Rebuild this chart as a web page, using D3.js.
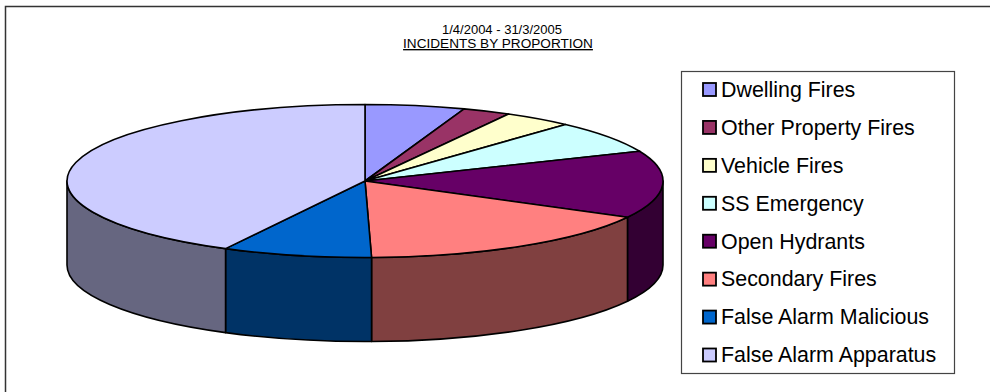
<!DOCTYPE html>
<html>
<head>
<meta charset="utf-8">
<script src="https://cdn.jsdelivr.net/npm/d3@7"></script>
<style>
  html, body { margin: 0; padding: 0; background: #fff; }
  svg { display: block; font-family: "Liberation Sans", Arial, sans-serif; }
</style>
</head>
<body>
<svg id="chart" width="990" height="392"></svg>
<script>
// ---- data ----
const categories = ["Dwelling Fires", "Other Property Fires", "Vehicle Fires", "SS Emergency",
                    "Open Hydrants", "Secondary Fires", "False Alarm Malicious", "False Alarm Apparatus"];
const values = [5.4, 2.6, 3.75, 6.9, 14.2, 16.8, 8.1, 42.25];
const colors = ["#9999FF", "#993366", "#FFFFCC", "#CCFFFF", "#660066", "#FF8080", "#0066CC", "#CCCCFF"];
const titleLines = ["1/4/2004 - 31/3/2005", "INCIDENTS BY PROPORTION"];

// ---- layout ----
const cx = 365, cy = 181, rx = 298, ry = 76.5, depth = 84;

const svg = d3.select("#chart");

// outer frame
svg.append("rect").attr("x", 5.5).attr("y", 6.5).attr("width", 1000).attr("height", 400)
  .attr("fill", "#fff").attr("stroke", "#333").attr("stroke-width", 1.5);

// title
svg.append("text").attr("x", 502).attr("y", 33.5).attr("text-anchor", "middle")
  .attr("font-size", 13).attr("fill", "#000").text(titleLines[0]);
svg.append("text").attr("x", 498).attr("y", 48).attr("text-anchor", "middle")
  .attr("font-size", 13.6).attr("fill", "#000").attr("text-decoration", "underline").text(titleLines[1]);

const color = d3.scaleOrdinal().domain(categories).range(colors);
const dark = c => { const k = d3.rgb(c); return d3.rgb(k.r * 0.5, k.g * 0.5, k.b * 0.5).formatHex(); };

const pie = d3.pie().sort(null).value(d => d.v);
const arcs = pie(categories.map((c, i) => ({ c, v: values[i] })));

const pt = (a, dy = 0) => [cx + rx * Math.sin(a), cy - ry * Math.cos(a) + dy];

const g = svg.append("g");

// side walls (front half: angles between PI/2 and 3PI/2)
arcs.forEach(d => {
  const s = Math.max(d.startAngle, Math.PI / 2);
  const e = Math.min(d.endAngle, 3 * Math.PI / 2);
  if (e <= s) return;
  const p0 = pt(s), p1 = pt(e), q1 = pt(e, depth), q0 = pt(s, depth);
  const large = (e - s) > Math.PI ? 1 : 0;
  const path = `M${p0[0]},${p0[1]} A${rx},${ry} 0 ${large} 1 ${p1[0]},${p1[1]} ` +
               `L${q1[0]},${q1[1]} A${rx},${ry} 0 ${large} 0 ${q0[0]},${q0[1]} Z`;
  g.append("path").attr("d", path)
    .attr("fill", dark(color(d.data.c)))
    .attr("stroke", "#000").attr("stroke-width", 1.6).attr("stroke-linejoin", "round");
});

// top faces
arcs.forEach(d => {
  const p0 = pt(d.startAngle), p1 = pt(d.endAngle);
  const large = (d.endAngle - d.startAngle) > Math.PI ? 1 : 0;
  const path = `M${cx},${cy} L${p0[0]},${p0[1]} A${rx},${ry} 0 ${large} 1 ${p1[0]},${p1[1]} Z`;
  g.append("path").attr("d", path)
    .attr("fill", color(d.data.c))
    .attr("stroke", "#000").attr("stroke-width", 1.6).attr("stroke-linejoin", "round");
});

// legend
const lg = svg.append("g");
lg.append("rect").attr("x", 681.5).attr("y", 71.5).attr("width", 273).attr("height", 302)
  .attr("fill", "#fff").attr("stroke", "#444").attr("stroke-width", 1.2);
const ly = d3.scalePoint().domain(categories).range([89.5, 355]);
categories.forEach(c => {
  const y = ly(c);
  lg.append("rect").attr("x", 703).attr("y", y - 6.5).attr("width", 13).attr("height", 13)
    .attr("fill", color(c)).attr("stroke", "#000").attr("stroke-width", 1.8);
  lg.append("text").attr("x", 721).attr("y", y + 7.3).attr("font-size", 21.4)
    .attr("fill", "#000").text(c);
});
</script>
</body>
</html>
